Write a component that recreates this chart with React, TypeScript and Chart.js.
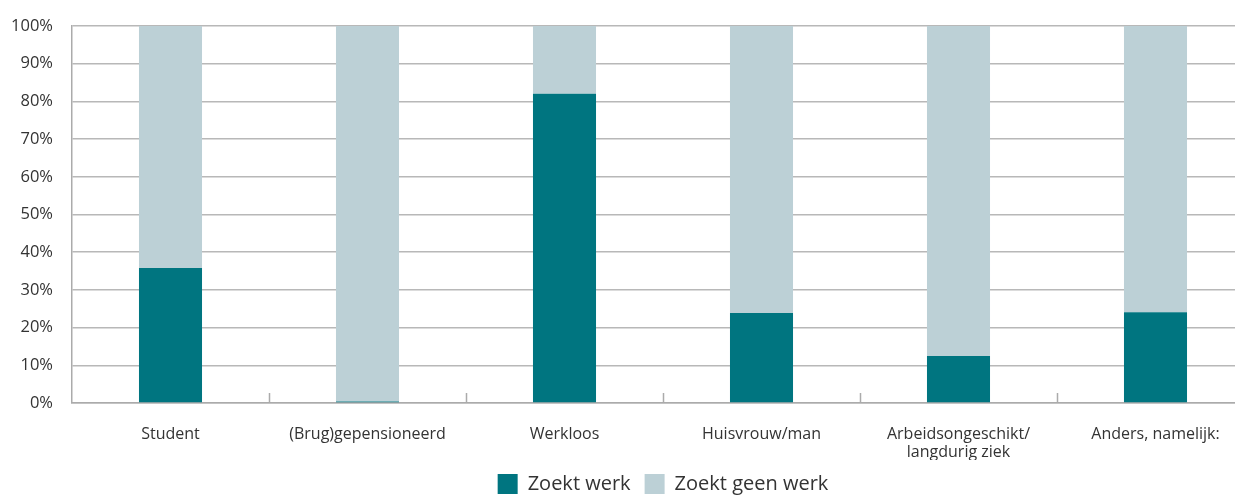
import React, { useEffect, useRef } from "react";
import { Chart, registerables } from "chart.js";

Chart.register(...registerables);

const categories: (string | string[])[] = [
  "Student",
  "(Brug)gepensioneerd",
  "Werkloos",
  "Huisvrouw/man",
  ["Arbeidsongeschikt/", "langdurig ziek"],
  "Anders, namelijk:",
];
const zoektWerk = [35.8, 0.4, 82.0, 23.9, 12.5, 24.1];
const zoektGeenWerk = [64.2, 99.6, 18.0, 76.1, 87.5, 75.9];
const seriesNames = ["Zoekt werk", "Zoekt geen werk"];
const yTicks = [0, 10, 20, 30, 40, 50, 60, 70, 80, 90, 100];

const TEAL = "#007580";
const LIGHT = "#bcd0d6";
const GRID = "#ababab";
const FONT = "'Open Sans', sans-serif";

const innerTicks = {
  id: "innerTicks",
  afterDraw(chart: any) {
    const x = chart.scales.x;
    const area = chart.chartArea;
    const ctx = chart.ctx;
    ctx.save();
    ctx.strokeStyle = GRID;
    ctx.lineWidth = 1.5;
    for (let i = 1; i < categories.length; i++) {
      const px = Math.round((x.getPixelForValue(i - 1) + x.getPixelForValue(i)) / 2) + 0.5;
      ctx.beginPath();
      ctx.moveTo(px, area.bottom);
      ctx.lineTo(px, area.bottom - 10);
      ctx.stroke();
    }
    ctx.restore();
  },
};

export default function App() {
  const ref = useRef<HTMLCanvasElement>(null);
  useEffect(() => {
    if (!ref.current) return;
    const chart = new Chart(ref.current, {
      type: "bar",
      data: {
        labels: categories,
        datasets: [
          { label: seriesNames[0], data: zoektWerk, backgroundColor: TEAL, borderWidth: 0 },
          { label: seriesNames[1], data: zoektGeenWerk, backgroundColor: LIGHT, borderWidth: 0 },
        ],
      },
      options: {
        animation: false,
        responsive: true,
        maintainAspectRatio: false,
        layout: { padding: { top: 18, right: 8, left: 2, bottom: 0 } },
        datasets: { bar: { categoryPercentage: 1, barPercentage: 0.32 } },
        scales: {
          x: {
            stacked: true,
            grid: { display: false, drawTicks: false },
            border: { display: true, color: GRID, width: 1.5 },
            afterFit: (axis: any) => {
              axis.height = 57;
            },
            ticks: {
              color: "#333",
              font: { family: FONT, size: 16, lineHeight: 1.1 },
              padding: 23,
              maxRotation: 0,
              autoSkip: false,
            },
          },
          y: {
            stacked: true,
            min: 0,
            max: 100,
            afterBuildTicks: (axis: any) => {
              axis.ticks = yTicks.map((v) => ({ value: v }));
            },
            afterFit: (axis: any) => {
              axis.width = 62;
              axis.paddingTop = 10;
              axis.paddingBottom = 10;
            },
            grid: { color: "#b8b8b8", lineWidth: 1.5, drawTicks: false },
            border: { display: true, color: GRID, width: 1.5 },
            ticks: {
              color: "#333",
              font: { family: FONT, size: 16.5 },
              padding: 19,
              callback: (v: any) => v + "%",
            },
          },
        },
        plugins: {
          legend: {
            position: "bottom",
            fullSize: false,
            maxHeight: 35,
            labels: {
              color: "#333",
              font: { family: FONT, size: 20 },
              boxWidth: 20,
              boxHeight: 20,
              padding: 14,
            },
          },
          tooltip: { enabled: false },
        },
      },
      plugins: [innerTicks],
    });
    return () => chart.destroy();
  }, []);
  return (
    <div style={{ width: 1235, height: 487, overflow: "hidden" }}>
      <div style={{ width: 1254, height: 487, position: "relative" }}>
        <canvas ref={ref} />
      </div>
    </div>
  );
}
